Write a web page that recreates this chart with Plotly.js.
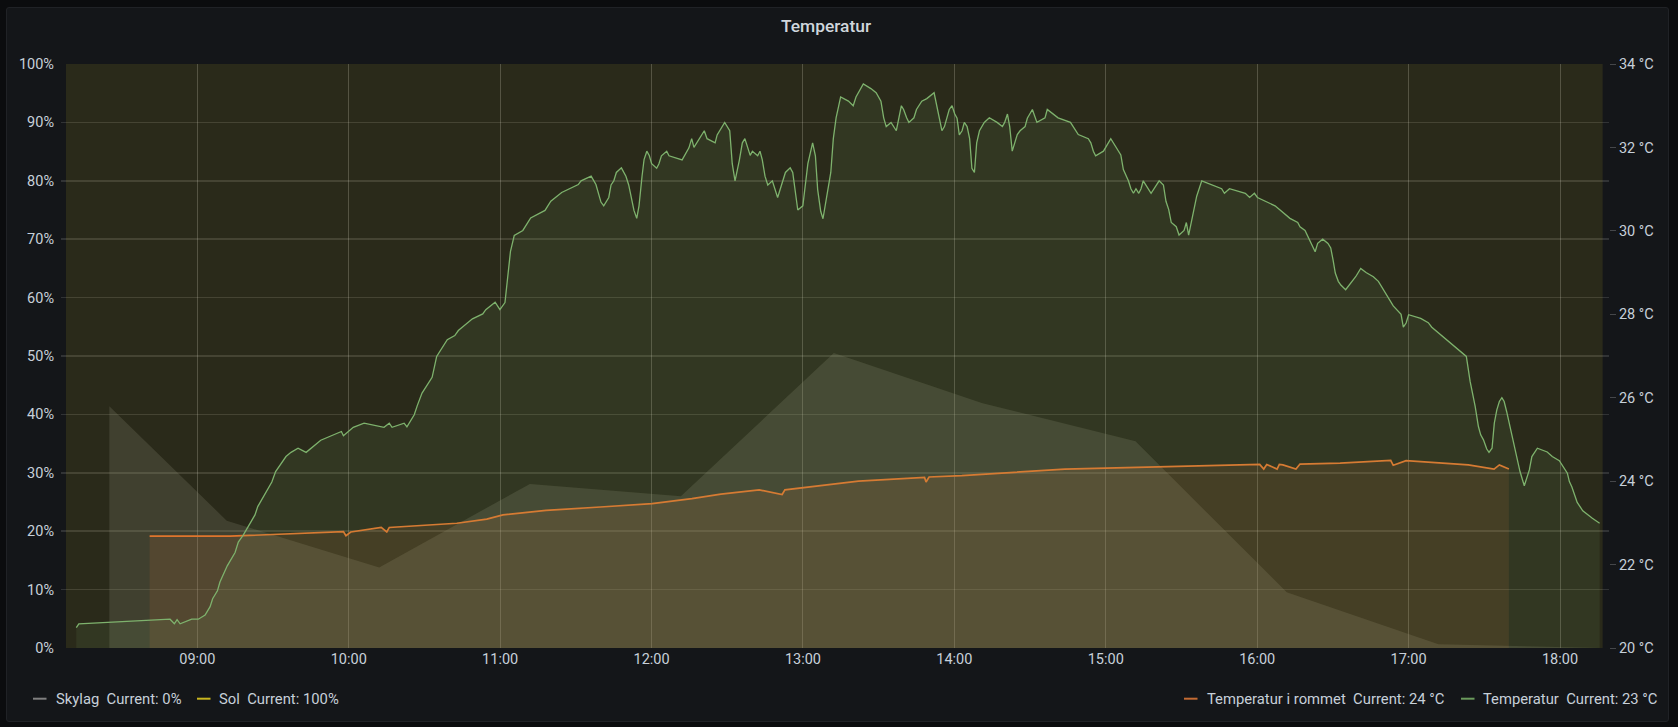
<!DOCTYPE html>
<html>
<head>
<meta charset="utf-8">
<title>Temperatur</title>
<script src="https://cdn.plot.ly/plotly-3.0.1.min.js"></script>
<style>
    html, body { margin: 0; padding: 0; background: #0b0c0e; overflow: hidden; }
    #panel {
        position: absolute; left: 6px; top: 7px; width: 1661px; height: 713px;
        background: #141619; border: 1px solid #202226; border-radius: 3px;
    }
    #chart { position: absolute; left: 0; top: 0; width: 1678px; height: 727px; }
</style>
</head>
<body>
<div id="panel"></div>
<div id="chart"></div>
<script>
// times are minutes after midnight

const solMinutes = [487.8, 1097.6];
const solValues = [100, 100];

const skyMinutes = [505.0, 551.6, 612.1, 671.9, 731.8, 792.5, 851.5, 912.2, 972.2, 1032.4, 1096.5];
const skyValues = [41.4, 21.8, 13.8, 28.1, 26.0, 50.5, 41.9, 35.4, 9.55, 0.63, 0];

const roomMinutes = [
    521.0, 552.9, 597.9, 598.9, 600.8, 612.9, 615.1, 616.1, 642.9, 654.8, 661.2, 678.3, 699.9, 720.4, 736.2,
    747.7, 762.9, 772.0, 773.1, 802.3, 828.5, 829.1, 830.3, 843.3, 884.2, 961.5, 963.1, 964.3, 968.4, 969.3,
    970.7, 975.9, 977.5, 993.4, 1013.5, 1014.5, 1019.6, 1044.3, 1054.5, 1056.6, 1060.4
];
const roomValues = [
    22.68, 22.68, 22.79, 22.69, 22.78, 22.89, 22.78, 22.89, 22.99, 23.09, 23.19, 23.30, 23.38, 23.46, 23.58,
    23.69, 23.79, 23.68, 23.79, 24.00, 24.09, 23.98, 24.10, 24.13, 24.29, 24.40, 24.29, 24.40, 24.29, 24.40,
    24.39, 24.29, 24.41, 24.43, 24.50, 24.38, 24.49, 24.39, 24.29, 24.39, 24.29
];

const tempMinutes = [
    491.9, 492.9, 529.1, 530.8, 531.9, 533.1, 537.7, 540.3, 543.0, 545.0, 546.0, 547.9, 548.9, 551.8, 554.9,
    556.2, 558.2, 562.8, 563.9, 569.5, 571.0, 575.1, 577.1, 579.9, 583.1, 588.9, 597.1, 597.9, 601.8, 606.1,
    614.0, 616.1, 617.2, 622.0, 623.1, 626.0, 627.2, 629.1, 633.1, 634.9, 639.1, 642.1, 643.5, 649.1, 653.2,
    654.4, 658.1, 660.0, 662.0, 664.2, 665.7, 669.1, 672.2, 677.9, 680.2, 684.5, 691.1, 692.2, 696.2, 698.1,
    700.1, 701.2, 703.2, 704.1, 705.2, 706.2, 708.2, 710.0, 711.1, 713.2, 714.3, 715.2, 716.4, 717.2, 718.3,
    719.3, 720.2, 722.2, 723.1, 724.1, 726.2, 727.1, 732.3, 735.0, 736.1, 737.0, 741.1, 742.2, 745.4, 746.2,
    749.2, 751.2, 752.2, 753.3, 755.0, 756.2, 757.2, 759.3, 760.2, 762.3, 763.2, 764.1, 765.2, 766.3, 768.1,
    770.2, 773.3, 775.2, 776.2, 778.2, 780.2, 782.2, 784.1, 785.2, 786.1, 787.3, 788.2, 791.3, 792.3, 793.4,
    795.2, 798.3, 800.2, 801.3, 804.2, 807.2, 809.3, 811.2, 812.3, 813.3, 815.2, 817.3, 819.3, 820.2, 821.4,
    822.3, 824.3, 825.3, 827.4, 829.4, 832.3, 835.4, 836.4, 838.3, 839.4, 840.5, 841.4, 842.3, 843.4, 844.3,
    845.4, 846.4, 847.3, 848.3, 849.2, 850.3, 852.2, 854.2, 857.3, 859.4, 860.3, 861.4, 862.3, 863.3, 865.3,
    866.4, 868.4, 869.3, 871.3, 873.1, 876.3, 877.2, 881.5, 886.4, 889.5, 893.5, 894.5, 895.5, 896.4, 899.5,
    902.4, 906.4, 907.4, 909.4, 910.4, 911.4, 912.4, 913.5, 914.4, 915.3, 918.4, 921.6, 923.3, 924.3, 925.4,
    926.4, 928.4, 929.5, 931.5, 932.4, 933.3, 936.5, 938.5, 946.4, 947.5, 949.5, 955.8, 957.5, 959.4, 960.6,
    967.6, 973.5, 976.6, 977.5, 979.5, 983.5, 984.5, 986.5, 988.6, 989.7, 990.6, 991.5, 992.7, 993.7, 995.6,
    999.6, 1001.6, 1003.7, 1006.6, 1008.6, 1014.5, 1017.6, 1018.5, 1019.6, 1020.6, 1025.4, 1028.4, 1029.8, 1043.5, 1045.0,
    1047.0, 1048.3, 1049.2, 1050.3, 1051.6, 1052.5, 1053.7, 1054.6, 1055.6, 1056.6, 1057.6, 1058.5, 1059.5, 1062.2, 1063.5,
    1064.8, 1066.5, 1068.5, 1069.5, 1071.7, 1075.6, 1077.6, 1080.4, 1083.6, 1084.4, 1085.4, 1087.5, 1089.7, 1093.5, 1096.4
];
const tempValues = [
    20.49, 20.58, 20.69, 20.58, 20.68, 20.58, 20.69, 20.69, 20.79, 20.99, 21.18, 21.37, 21.58, 21.97, 22.29,
    22.54, 22.71, 23.19, 23.39, 23.98, 24.23, 24.59, 24.69, 24.79, 24.69, 24.98, 25.19, 25.09, 25.29, 25.39,
    25.29, 25.39, 25.29, 25.39, 25.30, 25.59, 25.81, 26.11, 26.49, 26.99, 27.39, 27.49, 27.61, 27.89, 28.01,
    28.11, 28.29, 28.11, 28.28, 29.51, 29.89, 30.01, 30.31, 30.49, 30.71, 30.92, 31.11, 31.20, 31.31, 31.11,
    30.69, 30.60, 30.80, 31.10, 31.20, 31.40, 31.51, 31.31, 31.10, 30.49, 30.30, 30.60, 31.31, 31.71, 31.91,
    31.80, 31.61, 31.50, 31.61, 31.80, 31.91, 31.80, 31.70, 31.99, 32.21, 32.00, 32.40, 32.21, 32.11, 32.30,
    32.60, 32.40, 31.61, 31.20, 31.69, 32.11, 32.21, 31.81, 31.91, 31.80, 31.91, 31.71, 31.31, 31.10, 31.20,
    30.80, 31.40, 31.51, 31.40, 30.50, 30.60, 31.61, 32.11, 31.80, 30.99, 30.47, 30.29, 31.40, 32.21, 32.71,
    33.21, 33.11, 33.00, 33.21, 33.52, 33.41, 33.31, 33.11, 32.71, 32.50, 32.60, 32.40, 33.00, 32.91, 32.71,
    32.60, 32.71, 32.91, 33.11, 33.17, 33.31, 32.40, 32.50, 32.91, 33.00, 32.80, 32.70, 32.30, 32.40, 32.60,
    32.50, 32.21, 31.50, 31.40, 32.11, 32.40, 32.60, 32.71, 32.60, 32.50, 32.60, 32.80, 32.50, 31.91, 32.31,
    32.40, 32.50, 32.70, 32.91, 32.60, 32.71, 32.91, 32.71, 32.60, 32.31, 32.21, 32.11, 31.91, 31.80, 31.91,
    32.21, 31.82, 31.47, 31.20, 31.01, 30.90, 31.01, 30.90, 31.01, 31.20, 30.90, 31.20, 31.10, 30.71, 30.51,
    30.20, 30.10, 29.90, 30.01, 30.20, 29.90, 30.83, 31.20, 31.01, 30.90, 31.01, 30.90, 30.80, 30.90, 30.80,
    30.60, 30.30, 30.20, 30.10, 30.01, 29.50, 29.70, 29.80, 29.70, 29.59, 29.31, 28.99, 28.79, 28.70, 28.59,
    28.90, 29.10, 29.00, 28.90, 28.79, 28.20, 28.00, 27.69, 27.79, 27.99, 27.90, 27.80, 27.69, 26.99, 26.39,
    25.79, 25.31, 25.11, 24.99, 24.77, 24.69, 24.79, 25.39, 25.71, 25.91, 26.00, 25.91, 25.67, 24.91, 24.59,
    24.23, 23.89, 24.27, 24.59, 24.79, 24.70, 24.59, 24.49, 24.19, 23.99, 23.86, 23.49, 23.29, 23.11, 22.99
];

const legendNames = ["Skylag", "Sol", "Temperatur i rommet", "Temperatur"];
const legendCurrent = ["0%", "100%", "24 °C", "23 °C"];

const C = {
    text: "#c7d0d9",
    title: "#d0d6dc",
    gridX: "rgba(255,255,255,0.2)",
    gridY: "rgba(255,255,255,0.125)",
    sky: "#808080",
    sol: "#c9b61f",
    room: "#e0752d",
    temp: "#7eb26d"
};

// plot area in page pixels, the paper annotations and legend dashes go through these
const plotLeft = 61, plotRight = 1609, plotTop = 64, plotBottom = 648;
const paperX = px => (px - plotLeft) / (plotRight - plotLeft);
const paperY = py => (plotBottom - py) / (plotBottom - plotTop);

function clock(min) {
    return new Date(Date.UTC(2021, 5, 1, 0, 0, Math.round(min * 60))).toISOString().slice(0, 19).replace("T", " ");
}

// the readings were taken with a slightly short hour, this puts them back on the axis
const readTime = m => clock(540.08 + (m - 540) * 0.99861);

const traces = [
    {
        type: "scatter", mode: "lines", name: legendNames[1],
        x: solMinutes.map(readTime), y: solValues,
        line: { width: 0, color: C.sol },
        fill: "tozeroy", fillcolor: "rgba(250,222,42,0.1)"
    },
    {
        type: "scatter", mode: "lines", name: legendNames[0],
        x: skyMinutes.map(readTime), y: skyValues,
        line: { width: 0, color: C.sky },
        fill: "tozeroy", fillcolor: "rgba(145,145,125,0.22)"
    },
    {
        type: "scatter", mode: "lines", name: legendNames[2], yaxis: "y2",
        x: roomMinutes.map(readTime), y: roomValues,
        line: { width: 1.7, color: C.room },
        fill: "tozeroy", fillcolor: "rgba(239,132,60,0.11)"
    },
    {
        type: "scatter", mode: "lines", name: legendNames[3], yaxis: "y2",
        x: tempMinutes.map(readTime), y: tempValues,
        line: { width: 1.3, color: C.temp },
        fill: "tozeroy", fillcolor: "rgba(126,178,109,0.1)"
    }
];

// legend row: dash x, text x
const legendPos = [[33, 54.5], [197, 217.6], [1184, 1206], [1461, 1482]];
const legendDash = [C.sky, C.sol, "#c46b33", "#6a9a5c"];

const layout = {
    width: 1678,
    height: 727,
    font: { family: "Roboto, sans-serif", size: 14.5, color: C.text },
    paper_bgcolor: "rgba(0,0,0,0)",
    plot_bgcolor: "rgba(0,0,0,0)",
    margin: { l: plotLeft, r: 1678 - plotRight, t: plotTop, b: 727 - plotBottom, pad: 0 },
    showlegend: false,
    hovermode: false,
    title: {
        text: "Temperatur",
        font: { size: 17.4, weight: 500, color: C.title },
        x: 826 / 1678, xanchor: "center",
        y: 1 - 26 / 727, yanchor: "middle"
    },
    xaxis: {
        type: "date",
        range: [clock(485.99), clock(1099.42)],
        dtick: 3600000,
        tickformat: "%H:%M",
        showgrid: true,
        gridcolor: C.gridX,
        gridwidth: 1,
        zeroline: false,
        showline: false,
        ticks: "",
        fixedrange: true
    },
    yaxis: {
        range: [0, 100],
        dtick: 10,
        ticksuffix: "%",
        showgrid: true,
        gridcolor: C.gridY,
        gridwidth: 1.7,
        zeroline: false,
        showline: false,
        ticks: "",
        ticklabelstandoff: 6,
        fixedrange: true
    },
    yaxis2: {
        overlaying: "y",
        side: "right",
        range: [20, 34],
        dtick: 2,
        ticksuffix: " °C",
        showgrid: false,
        zeroline: false,
        showline: false,
        ticks: "outside",
        ticklen: 6,
        tickcolor: "#45474a",
        fixedrange: true
    },
    shapes: legendPos.map((p, i) => ({
        type: "line", xref: "paper", yref: "paper",
        x0: paperX(p[0]), x1: paperX(p[0] + 13.5),
        y0: paperY(698.7), y1: paperY(698.7),
        line: { color: legendDash[i], width: 2 }
    })),
    annotations: legendPos.map((p, i) => ({
        xref: "paper", yref: "paper",
        x: paperX(p[1]), y: paperY(698.5),
        xanchor: "left", yanchor: "middle",
        showarrow: false, borderpad: 0,
        text: legendNames[i] + "\u00a0\u00a0Current: " + legendCurrent[i],
        font: { size: 14.8, color: C.text }
    }))
};

Plotly.newPlot("chart", traces, layout, { displayModeBar: false, staticPlot: true });
</script>
</body>
</html>
